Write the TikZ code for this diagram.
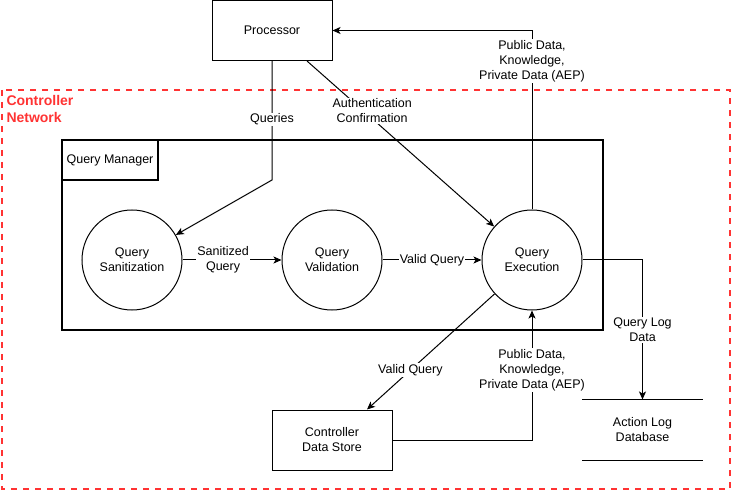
\documentclass[tikz,border=0pt]{standalone}
\usepackage{fontspec}
\setmainfont{Liberation Sans}
\usetikzlibrary{arrows.meta,positioning,calc}
\definecolor{NetRed}{RGB}{255,51,51}

\begin{document}
\begin{tikzpicture}[x=1pt,y=-1pt,>={Stealth[length=8pt,width=7pt,inset=2pt]},line width=1pt,every node/.style={font=\fontsize{12.5}{15}\selectfont,align=center,inner sep=1pt}]
\tikzset{box/.style={draw,minimum width=120pt,minimum height=60pt},
  proc/.style={draw,circle,minimum size=100pt,inner sep=0pt},
  lbl/.style={fill=white,inner sep=1pt}}
\useasboundingbox (0,0) rectangle (732,492);
% controller network
\draw[NetRed,line width=2pt,dash pattern=on 6pt off 6pt] (2,90) rectangle (730,489);
\node[NetRed,font=\fontsize{14}{16.5}\selectfont\bfseries,align=left,anchor=north west,inner sep=0pt] (net) at (6,95) {Controller\\Network};
% query manager
\node[draw,line width=2pt,minimum width=541pt,minimum height=190pt] (qm) at (332.5,235) {};
\node[draw,line width=2pt,minimum width=96pt,minimum height=40pt,anchor=north west] (qmlbl) at (qm.north west) {Query Manager};
\node[box] (proc) at (272,30.5) {Processor};
\node[proc] (qsan) at (132,260) {Query\\Sanitization};
\node[proc] (qval) at (332,260) {Query\\Validation};
\node[proc] (qexe) at (532,260) {Query\\Execution};
\node[box] (store) at (332,440) {Controller\\Data Store};
\node[minimum width=120pt,minimum height=60pt] (log) at (642.5,430) {Action Log\\Database};
\draw (log.north west) -- (log.north east);
\draw (log.south west) -- (log.south east);
% flows
\coordinate (qbend) at (272,180);
\draw[->] (proc.south) -- node[lbl,pos=.49]{Queries} (qbend) -- (qsan);
\draw[->] ([xshift=35pt]proc.south) -- node[lbl,pos=.3,xshift=9pt]{Authentication\\Confirmation} (qexe);
\draw[->] (qsan) -- node[lbl,pos=.41]{Sanitized\\Query} (qval);
\draw[->] (qval) -- node[lbl]{Valid Query} (qexe);
\draw[->] (qexe.north) |- node[lbl,pos=.415]{Public Data,\\Knowledge,\\Private Data (AEP)} (proc.east);
\draw[->] (qexe) -- node[lbl,pos=.66]{Valid Query} ([xshift=35pt]store.north);
\draw[->] (store.east) -| node[lbl,pos=.77]{Public Data,\\Knowledge,\\Private Data (AEP)} (qexe.south);
\draw[->] (qexe.east) -| node[lbl,pos=.75]{Query Log\\Data} (log.north);
\end{tikzpicture}
\end{document}
